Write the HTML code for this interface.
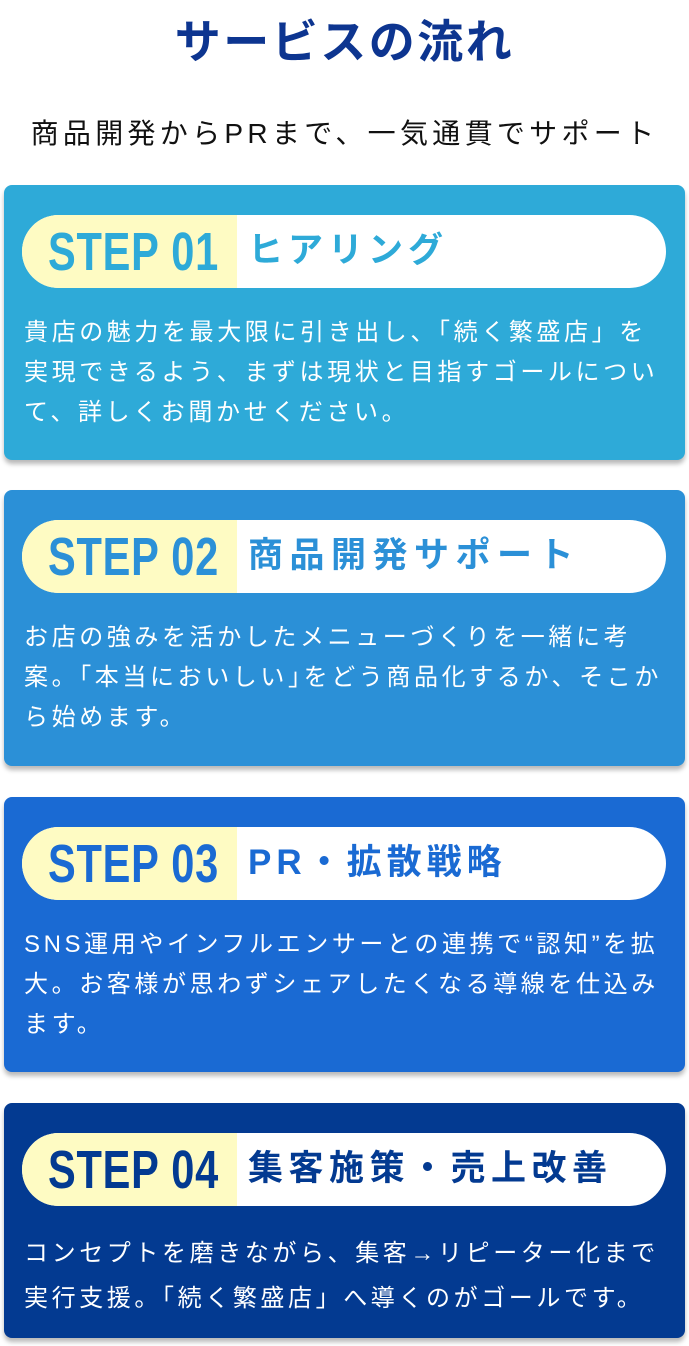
<!DOCTYPE html>
<html><head><meta charset="utf-8"><style>
*{margin:0;padding:0;box-sizing:border-box}
body{width:689px;height:1346px;background:#fff;position:relative;overflow:hidden;font-family:"Liberation Sans","Noto Sans CJK JP",sans-serif}
.t{position:absolute;left:0;width:689px;text-align:center;white-space:nowrap}
.card{position:absolute;left:4px;width:681px;border-radius:8px;box-shadow:0 4px 5px rgba(0,0,0,.28)}
.pill{position:absolute;left:18px;top:30px;width:644px;height:73px;border-radius:37px;background:#fff;overflow:hidden}
.yel{position:absolute;left:0;top:0;width:215px;height:73px;background:#fefbc3}
.step{position:absolute;left:26px;top:7px;font-weight:bold;font-size:54px;line-height:60px;transform:scaleX(0.77);transform-origin:left;letter-spacing:1px;white-space:nowrap}
.h{position:absolute;left:226px;top:13px;font-weight:bold;font-size:35px;line-height:46px;letter-spacing:5px;white-space:nowrap}
.b{position:absolute;left:20px;color:#fff;font-size:24px;line-height:40px;letter-spacing:3.6px;white-space:nowrap}
</style></head><body>
<div class="t" style="top:14px;font-size:46px;font-weight:bold;color:#0d3590;letter-spacing:2.5px;line-height:56px">サービスの流れ</div>
<div class="t" style="top:114px;font-size:28px;color:#111;letter-spacing:4.3px;line-height:40px">商品開発からPRまで、一気通貫でサポート</div>

<div class="card" style="top:185px;height:275px;background:#2eaad8">
<div class="pill"><div class="yel"></div><div class="step" style="color:#2eaad8">STEP 01</div><div class="h" style="color:#2eaad8">ヒアリング</div></div>
<div class="b" style="top:128px">貴店の魅力を最大限に引き出し、「続く繁盛店」を<br>実現できるよう、まずは現状と目指すゴールについ<br>て、詳しくお聞かせください。</div>
</div>

<div class="card" style="top:490px;height:276px;background:#2b90d7">
<div class="pill"><div class="yel"></div><div class="step" style="color:#2b90d7">STEP 02</div><div class="h" style="color:#2b90d7;left:226px;letter-spacing:6.5px">商品開発サポート</div></div>
<div class="b" style="top:128px">お店の強みを活かしたメニューづくりを一緒に考<br>案。｢本当においしい｣をどう商品化するか、そこか<br>ら始めます。</div>
</div>

<div class="card" style="top:797px;height:275px;background:#1a6ad3">
<div class="pill"><div class="yel"></div><div class="step" style="color:#1a6ad3">STEP 03</div><div class="h" style="color:#1a6ad3;left:226px">PR・拡散戦略</div></div>
<div class="b" style="top:128px">SNS運用やインフルエンサーとの連携で“認知”を拡<br>大。お客様が思わずシェアしたくなる導線を仕込み<br>ます。</div>
</div>

<div class="card" style="top:1103px;height:235px;background:#033a91">
<div class="pill"><div class="yel"></div><div class="step" style="color:#033a91">STEP 04</div><div class="h" style="color:#033a91;left:226px;letter-spacing:5.5px">集客施策・売上改善</div></div>
<div class="b" style="top:128px;line-height:45px">コンセプトを磨きながら、集客→リピーター化まで<br>実行支援。「続く繁盛店」へ導くのがゴールです。</div>
</div>
</body></html>
